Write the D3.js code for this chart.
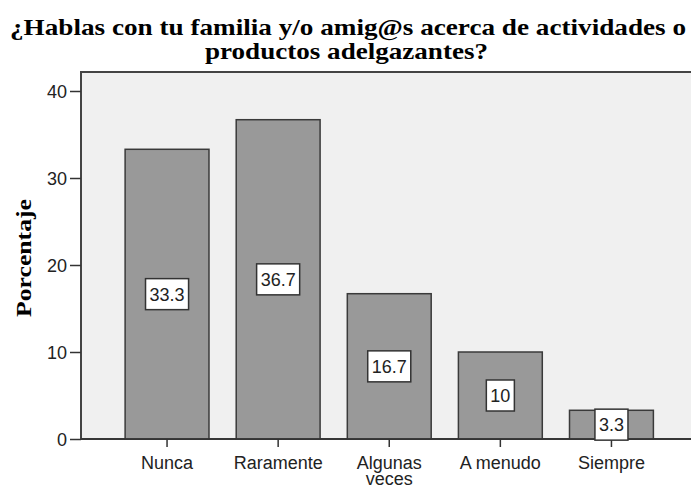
<!DOCTYPE html>
<html>
<head>
<meta charset="utf-8">
<script src="https://cdn.jsdelivr.net/npm/d3@7"></script>
<style>
  body { margin: 0; background: #fff; }
  svg { display: block; }
</style>
</head>
<body>
<div id="chart"></div>
<script>
const categories = ["Nunca", "Raramente", "Algunas veces", "A menudo", "Siempre"];
const categoryLines = [["Nunca"], ["Raramente"], ["Algunas", "veces"], ["A menudo"], ["Siempre"]];
const values = [33.3, 36.7, 16.7, 10, 3.3];
const valueLabels = ["33.3", "36.7", "16.7", "10", "3.3"];
const yTicks = [0, 10, 20, 30, 40];
const titleLines = ["¿Hablas con tu familia y/o amig@s acerca de actividades o", "productos adelgazantes?"];

const W = 691, H = 489;
const plot = {left: 81, top: 72, right: 695, bottom: 439};

const svg = d3.select("#chart").append("svg")
    .attr("width", W)
    .attr("height", H);

const x = d3.scaleBand()
    .domain(categories)
    .range([111.5, 667])
    .paddingInner(0.245)
    .paddingOuter(0.1225);

const y = d3.scaleLinear()
    .domain([0, 40])
    .range([plot.bottom, 91]);

// plot background + frame
svg.append("rect")
    .attr("x", plot.left)
    .attr("y", plot.top)
    .attr("width", plot.right - plot.left)
    .attr("height", plot.bottom - plot.top)
    .style("fill", "#f0f0f0")
    .style("stroke", "#444")
    .style("stroke-width", 2);

// bars
svg.selectAll(".bar")
    .data(values)
    .enter().append("rect")
    .attr("class", "bar")
    .attr("x", (d, i) => x(categories[i]))
    .attr("y", d => y(d))
    .attr("width", x.bandwidth())
    .attr("height", d => y(0) - y(d))
    .style("fill", "#999999")
    .style("stroke", "#3a3a3a")
    .style("stroke-width", 1.5);

// x axis
const xAxis = svg.append("g")
    .attr("transform", `translate(0,${plot.bottom})`)
    .call(d3.axisBottom(x).tickSize(8).tickFormat(""));
xAxis.select(".domain").attr("d", `M${plot.left},0H${plot.right}`).style("stroke", "#333").style("stroke-width", 1.5);
xAxis.selectAll(".tick line").style("stroke", "#333").style("stroke-width", 1.5);

xAxis.selectAll(".tick").append("text")
    .attr("fill", "#222")
    .attr("text-anchor", "middle")
    .style("font-family", "Arial, 'Liberation Sans', sans-serif")
    .style("font-size", "18px")
    .each(function(d, i) {
        d3.select(this).selectAll("tspan")
            .data(categoryLines[i])
            .enter().append("tspan")
            .attr("x", 0)
            .attr("y", (w, j) => 30 + j * 16)
            .text(w => w);
    });

// y axis
const yAxis = svg.append("g")
    .attr("transform", `translate(${plot.left},0)`)
    .call(d3.axisLeft(y).tickValues(yTicks).tickSize(11).tickPadding(3));
yAxis.select(".domain").remove();
yAxis.selectAll(".tick line").style("stroke", "#333").style("stroke-width", 1.5);
yAxis.selectAll(".tick text")
    .attr("fill", "#222")
    .attr("dy", "0.36em")
    .style("font-family", "Arial, 'Liberation Sans', sans-serif")
    .style("font-size", "18px");

// value labels
const labels = svg.selectAll(".vlabel")
    .data(values)
    .enter().append("g")
    .attr("class", "vlabel")
    .attr("transform", (d, i) => `translate(${x(categories[i]) + x.bandwidth() / 2},${(y(0) + y(d)) / 2})`);

labels.append("text")
    .attr("text-anchor", "middle")
    .attr("dy", "0.36em")
    .attr("fill", "#222")
    .style("font-family", "Arial, 'Liberation Sans', sans-serif")
    .style("font-size", "18px")
    .text((d, i) => valueLabels[i]);

labels.each(function() {
    const g = d3.select(this);
    const bb = g.select("text").node().getBBox();
    g.insert("rect", "text")
        .attr("x", bb.x - 4)
        .attr("y", -15.5)
        .attr("width", bb.width + 8)
        .attr("height", 31)
        .style("fill", "#fff")
        .style("stroke", "#333")
        .style("stroke-width", 1.5);
});

// title
svg.append("text")
    .attr("x", 348)
    .attr("y", 35)
    .attr("text-anchor", "middle")
    .attr("textLength", 676)
    .attr("lengthAdjust", "spacingAndGlyphs")
    .style("font-family", "'Liberation Serif', 'Times New Roman', serif")
    .style("font-weight", "bold")
    .style("font-size", "24px")
    .text(titleLines[0]);

svg.append("text")
    .attr("x", 346.5)
    .attr("y", 59)
    .attr("text-anchor", "middle")
    .attr("textLength", 283)
    .attr("lengthAdjust", "spacingAndGlyphs")
    .style("font-family", "'Liberation Serif', 'Times New Roman', serif")
    .style("font-weight", "bold")
    .style("font-size", "24px")
    .text(titleLines[1]);

// y axis title
svg.append("text")
    .attr("transform", "translate(31,258) rotate(-90)")
    .attr("text-anchor", "middle")
    .attr("textLength", 118)
    .attr("lengthAdjust", "spacingAndGlyphs")
    .style("font-family", "'Liberation Serif', 'Times New Roman', serif")
    .style("font-weight", "bold")
    .style("font-size", "22px")
    .text("Porcentaje");
</script>
</body>
</html>
